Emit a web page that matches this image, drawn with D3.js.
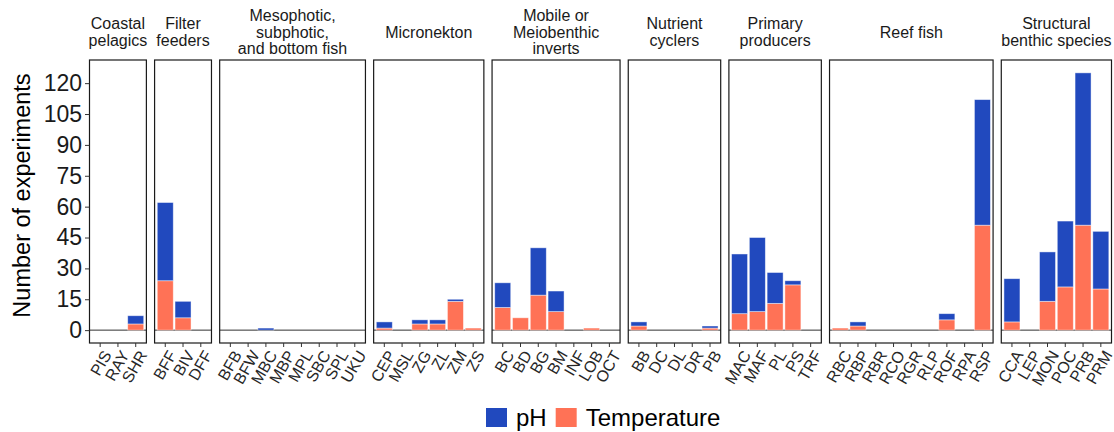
<!DOCTYPE html>
<html>
<head>
<meta charset="utf-8">
<script src="https://cdn.jsdelivr.net/npm/d3@7"></script>
<style>
  html, body { margin: 0; padding: 0; background: #fff; }
  svg { display: block; font-family: "Liberation Sans", Arial, sans-serif; }
</style>
</head>
<body>
<svg id="chart" width="1114" height="432"></svg>
<script>
// Functional groups (facet strips), one entry per panel
const groupLabels = [
  ["Coastal", "pelagics"],
  ["Filter", "feeders"],
  ["Mesophotic,", "subphotic,", "and bottom fish"],
  ["Micronekton"],
  ["Mobile or", "Meiobenthic", "inverts"],
  ["Nutrient", "cyclers"],
  ["Primary", "producers"],
  ["Reef fish"],
  ["Structural", "benthic species"]
];

// Species codes within each group
const groupCodes = [
  ["PIS", "RAY", "SHR"],
  ["BFF", "BIV", "DFF"],
  ["BFB", "BFW", "MBC", "MBP", "MPL", "SBC", "SPL", "UKU"],
  ["CEP", "MSL", "ZG", "ZL", "ZM", "ZS"],
  ["BC", "BD", "BG", "BM", "INF", "LOB", "OCT"],
  ["BB", "DC", "DL", "DR", "PB"],
  ["MAC", "MAF", "PL", "PS", "TRF"],
  ["RBC", "RBP", "RBR", "RCO", "RGR", "RLP", "ROF", "RPA", "RSP"],
  ["CCA", "LEP", "MON", "POC", "PRB", "PRM"]
];

// Number of temperature experiments per code
const tempCounts = [
  [0, 0, 3],
  [24, 6, 0],
  [0, 0, 0, 0, 0, 0, 0, 0],
  [1, 0, 3, 3, 14, 1],
  [11, 6, 17, 9, 0, 1, 0],
  [2, 0, 0, 0, 1],
  [8, 9, 13, 22, 0],
  [1, 2, 0, 0, 0, 0, 5, 0, 51],
  [4, 0, 14, 21, 51, 20]
];

// Number of pH experiments per code
const phCounts = [
  [0, 0, 4],
  [38, 8, 0],
  [0, 0, 1, 0, 0, 0, 0, 0],
  [3, 0, 2, 2, 1, 0],
  [12, 0, 23, 10, 0, 0, 0],
  [2, 0, 0, 0, 1],
  [29, 36, 15, 2, 0],
  [0, 2, 0, 0, 0, 0, 3, 0, 61],
  [21, 0, 24, 32, 74, 28]
];

const yTicks = [0, 15, 30, 45, 60, 75, 90, 105, 120];
const seriesKeys = ["Temperature", "pH"];
const seriesColors = { "pH": "#2149BE", "Temperature": "#FF7256" };
const legendOrder = ["pH", "Temperature"];

const svg = d3.select("#chart");

// layout
const plotLeft = 89.5, plotRight = 1111.5, gap = 8.2;
const panelTop = 60, panelBottom = 343;

const units = groupCodes.map(c => c.length + 0.2);
const unitPx = (plotRight - plotLeft - gap * (groupCodes.length - 1)) / d3.sum(units);

// shared y scale with 5% expansion around [0, max]
const maxTotal = d3.max(groupCodes.flatMap((c, g) => c.map((_, i) => tempCounts[g][i] + phCounts[g][i])));
const pad = maxTotal * 0.05;
const y = d3.scaleLinear().domain([-pad, maxTotal + pad]).range([panelBottom, panelTop]);

const stack = d3.stack().keys(seriesKeys);

let x0 = plotLeft;
groupCodes.forEach((codes, g) => {
  const w = units[g] * unitPx;
  const x = d3.scaleBand().domain(codes).range([x0, x0 + w]).paddingInner(0.1).paddingOuter(0.15);

  const rows = codes.map((code, i) => ({ code, "Temperature": tempCounts[g][i], "pH": phCounts[g][i] }));
  const layers = stack(rows);

  const panel = svg.append("g");

  // zero reference line
  panel.append("line")
    .attr("x1", x0).attr("x2", x0 + w)
    .attr("y1", y(0)).attr("y2", y(0))
    .attr("stroke", "#1a1a1a").attr("stroke-width", 0.9);

  // stacked bars
  layers.forEach(layer => {
    panel.append("g").selectAll("rect")
      .data(layer.filter(d => d[1] - d[0] > 0))
      .join("rect")
      .attr("x", d => x(d.data.code))
      .attr("width", x.bandwidth())
      .attr("y", d => y(d[1]))
      .attr("height", d => y(d[0]) - y(d[1]))
      .attr("fill", seriesColors[layer.key])
      .attr("stroke", "#ffffff")
      .attr("stroke-opacity", 0.55)
      .attr("stroke-width", 0.8);
  });

  // panel border
  panel.append("rect")
    .attr("x", x0).attr("y", panelTop)
    .attr("width", w).attr("height", panelBottom - panelTop)
    .attr("fill", "none").attr("stroke", "#1a1a1a").attr("stroke-width", 1.2);

  // x axis
  const xAxis = svg.append("g")
    .attr("transform", `translate(0,${panelBottom})`)
    .call(d3.axisBottom(x).tickSize(4).tickSizeOuter(0));
  xAxis.select(".domain").remove();
  xAxis.selectAll(".tick line").attr("stroke", "#333").attr("stroke-width", 1);
  xAxis.selectAll(".tick text")
    .attr("fill", "#262626")
    .style("font-size", "16px")
    .attr("text-anchor", "end")
    .attr("y", 0).attr("dy", "0.72em")
    .attr("transform", "translate(2,6) rotate(-60)");

  // strip title
  const lines = groupLabels[g];
  const lh = 16.5;
  const cy = 32;
  const strip = svg.append("text")
    .attr("text-anchor", "middle")
    .attr("fill", "#1a1a1a")
    .style("font-size", "16px");
  lines.forEach((t, k) => {
    strip.append("tspan")
      .attr("x", x0 + w / 2)
      .attr("y", cy + (k - (lines.length - 1) / 2) * lh)
      .attr("dy", "0.35em")
      .text(t);
  });

  x0 += w + gap;
});

// y axis on the first panel
const yAxis = svg.append("g")
  .attr("transform", `translate(${plotLeft},0)`)
  .call(d3.axisLeft(y).tickValues(yTicks).tickSize(4.5).tickPadding(3));
yAxis.select(".domain").remove();
yAxis.selectAll(".tick line").attr("stroke", "#333").attr("stroke-width", 1);
yAxis.selectAll(".tick text").attr("fill", "#1a1a1a").style("font-size", "23px");

// y axis title
svg.append("text")
  .attr("transform", `translate(30,${(panelTop + panelBottom) / 2 - 6}) rotate(-90)`)
  .attr("text-anchor", "middle")
  .attr("fill", "#000")
  .style("font-size", "23.5px")
  .text("Number of experiments");

// legend
const legend = svg.append("g").attr("transform", "translate(486,408)");
let lx = 0;
legendOrder.forEach(key => {
  legend.append("rect")
    .attr("x", lx).attr("y", 0).attr("width", 21).attr("height", 19)
    .attr("fill", seriesColors[key]);
  const t = legend.append("text")
    .attr("x", lx + 30).attr("y", 9.5).attr("dy", "0.36em")
    .attr("fill", "#000")
    .style("font-size", "24px")
    .text(key);
  lx += 30 + t.node().getComputedTextLength() + 9;
});
</script>
</body>
</html>
